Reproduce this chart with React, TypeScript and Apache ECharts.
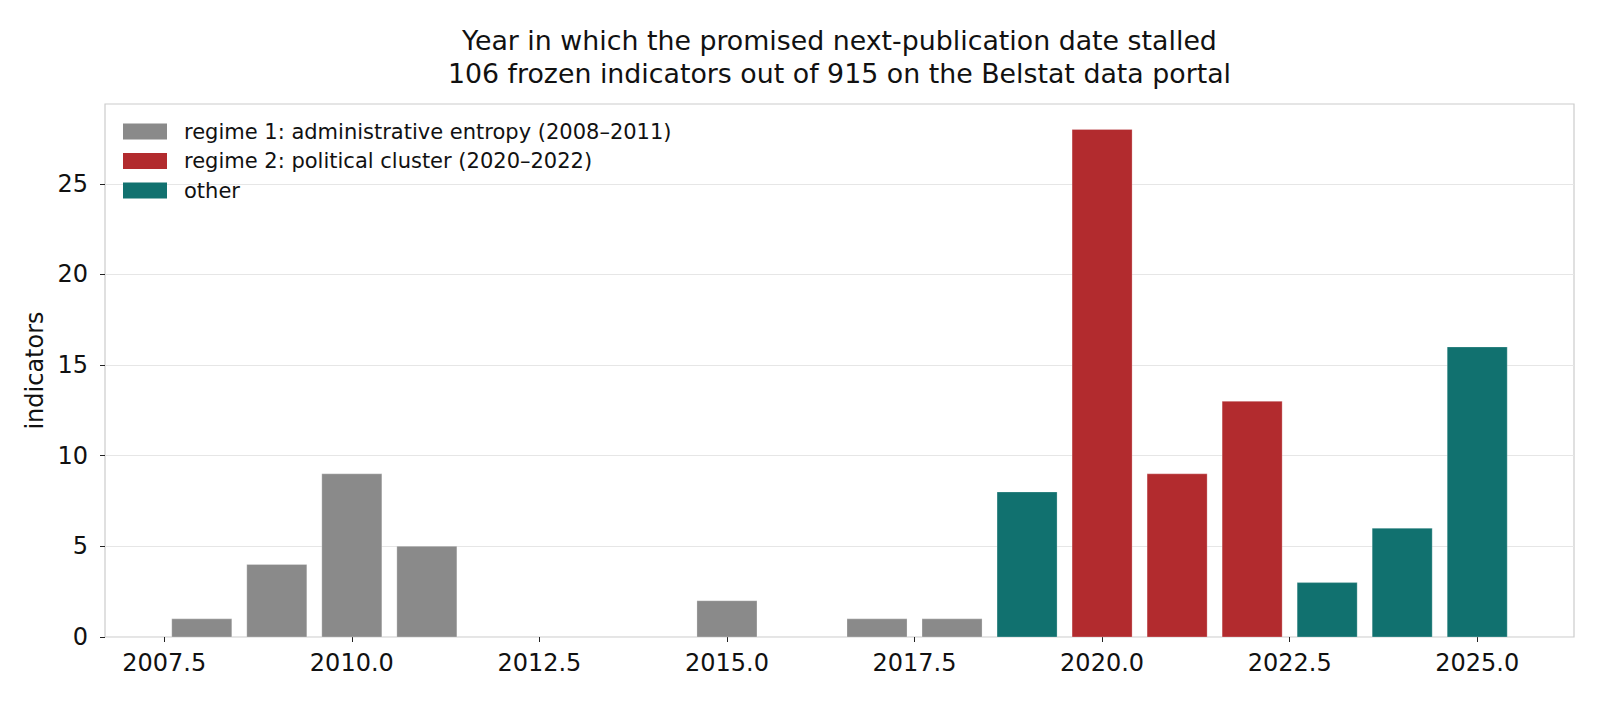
import React, { useEffect, useRef } from "react";
import * as echarts from "echarts";

const regime1Years = [2008, 2009, 2010, 2011, 2015, 2017, 2018];
const regime1Values = [1, 4, 9, 5, 2, 1, 1];
const regime2Years = [2020, 2021, 2022];
const regime2Values = [28, 9, 13];
const otherYears = [2019, 2023, 2024, 2025];
const otherValues = [8, 3, 6, 16];
const xTicks = [2007.5, 2010, 2012.5, 2015, 2017.5, 2020, 2022.5, 2025];
const yTicks = [0, 5, 10, 15, 20, 25];

const FONT = "DejaVu Sans";

function makeSeries(name: string, years: number[], values: number[], color: string) {
  return {
    type: "custom",
    name,
    itemStyle: { color },
    data: years.map((y, i) => [y, values[i]]),
    encode: { x: 0, y: 1 },
    renderItem: (params: any, api: any) => {
      const x = api.value(0);
      const v = api.value(1);
      const p0 = api.coord([x - 0.4, 0]);
      const p1 = api.coord([x + 0.4, v]);
      return {
        type: "rect",
        shape: { x: p0[0], y: p1[1], width: p1[0] - p0[0], height: p0[1] - p1[1] },
        style: { fill: color, stroke: "rgba(255,255,255,0.25)", lineWidth: 1 },
      };
    },
  };
}

export default function App() {
  const ref = useRef<HTMLDivElement>(null);
  useEffect(() => {
    document.body.style.margin = "0";
    const chart = echarts.init(ref.current!, null, { renderer: "svg" });
    chart.setOption({
      animation: false,
      backgroundColor: "#ffffff",
      textStyle: { fontFamily: FONT },
      title: {
        text: "Year in which the promised next-publication date stalled\n106 frozen indicators out of 915 on the Belstat data portal",
        left: 839.5,
        top: 23.5,
        padding: 0,
        textAlign: "center",
        textStyle: { fontFamily: FONT, fontSize: 26.8, fontWeight: "normal", color: "#111", lineHeight: 33 },
      },
      legend: {
        orient: "vertical",
        left: 123,
        top: 121,
        padding: 0,
        itemWidth: 44,
        itemHeight: 16,
        itemGap: 8.5,
        icon: "rect",
        textStyle: { fontFamily: FONT, fontSize: 21, lineHeight: 21, color: "#111", padding: [0, 0, 0, 12] },
        data: [
          "regime 1: administrative entropy (2008–2011)",
          "regime 2: political cluster (2020–2022)",
          "other",
        ],
      },
      grid: { left: 105, right: 26, top: 104, bottom: 67, show: true, borderColor: "#cccccc", borderWidth: 1.2 },
      xAxis: {
        type: "value",
        min: 2006.71,
        max: 2026.29,
        splitLine: { show: false },
        axisLine: { show: false },
        axisTick: { show: true, customValues: xTicks, length: 5, lineStyle: { color: "#222" } },
        axisLabel: {
          customValues: xTicks,
          formatter: (v: number) => v.toFixed(1),
          fontSize: 24,
          color: "#111",
          fontFamily: FONT,
          margin: 14,
        },
      },
      yAxis: {
        type: "value",
        min: 0,
        max: 29.4,
        name: "indicators",
        nameLocation: "middle",
        nameGap: 51,
        nameTextStyle: { fontSize: 24, color: "#111", fontFamily: FONT },
        splitLine: { show: true, lineStyle: { color: "#e6e6e6" } },
        axisLine: { show: false },
        axisTick: { show: true, customValues: yTicks, length: 5, lineStyle: { color: "#222" } },
        axisLabel: {
          customValues: yTicks,
          fontSize: 24,
          color: "#111",
          fontFamily: FONT,
          margin: 17,
        },
      },
      series: [
        makeSeries("regime 1: administrative entropy (2008–2011)", regime1Years, regime1Values, "#8a8a8a"),
        makeSeries("regime 2: political cluster (2020–2022)", regime2Years, regime2Values, "#b22b2e"),
        makeSeries("other", otherYears, otherValues, "#11716f"),
      ],
    });
    return () => chart.dispose();
  }, []);
  return <div ref={ref} style={{ width: 1600, height: 704 }} />;
}
